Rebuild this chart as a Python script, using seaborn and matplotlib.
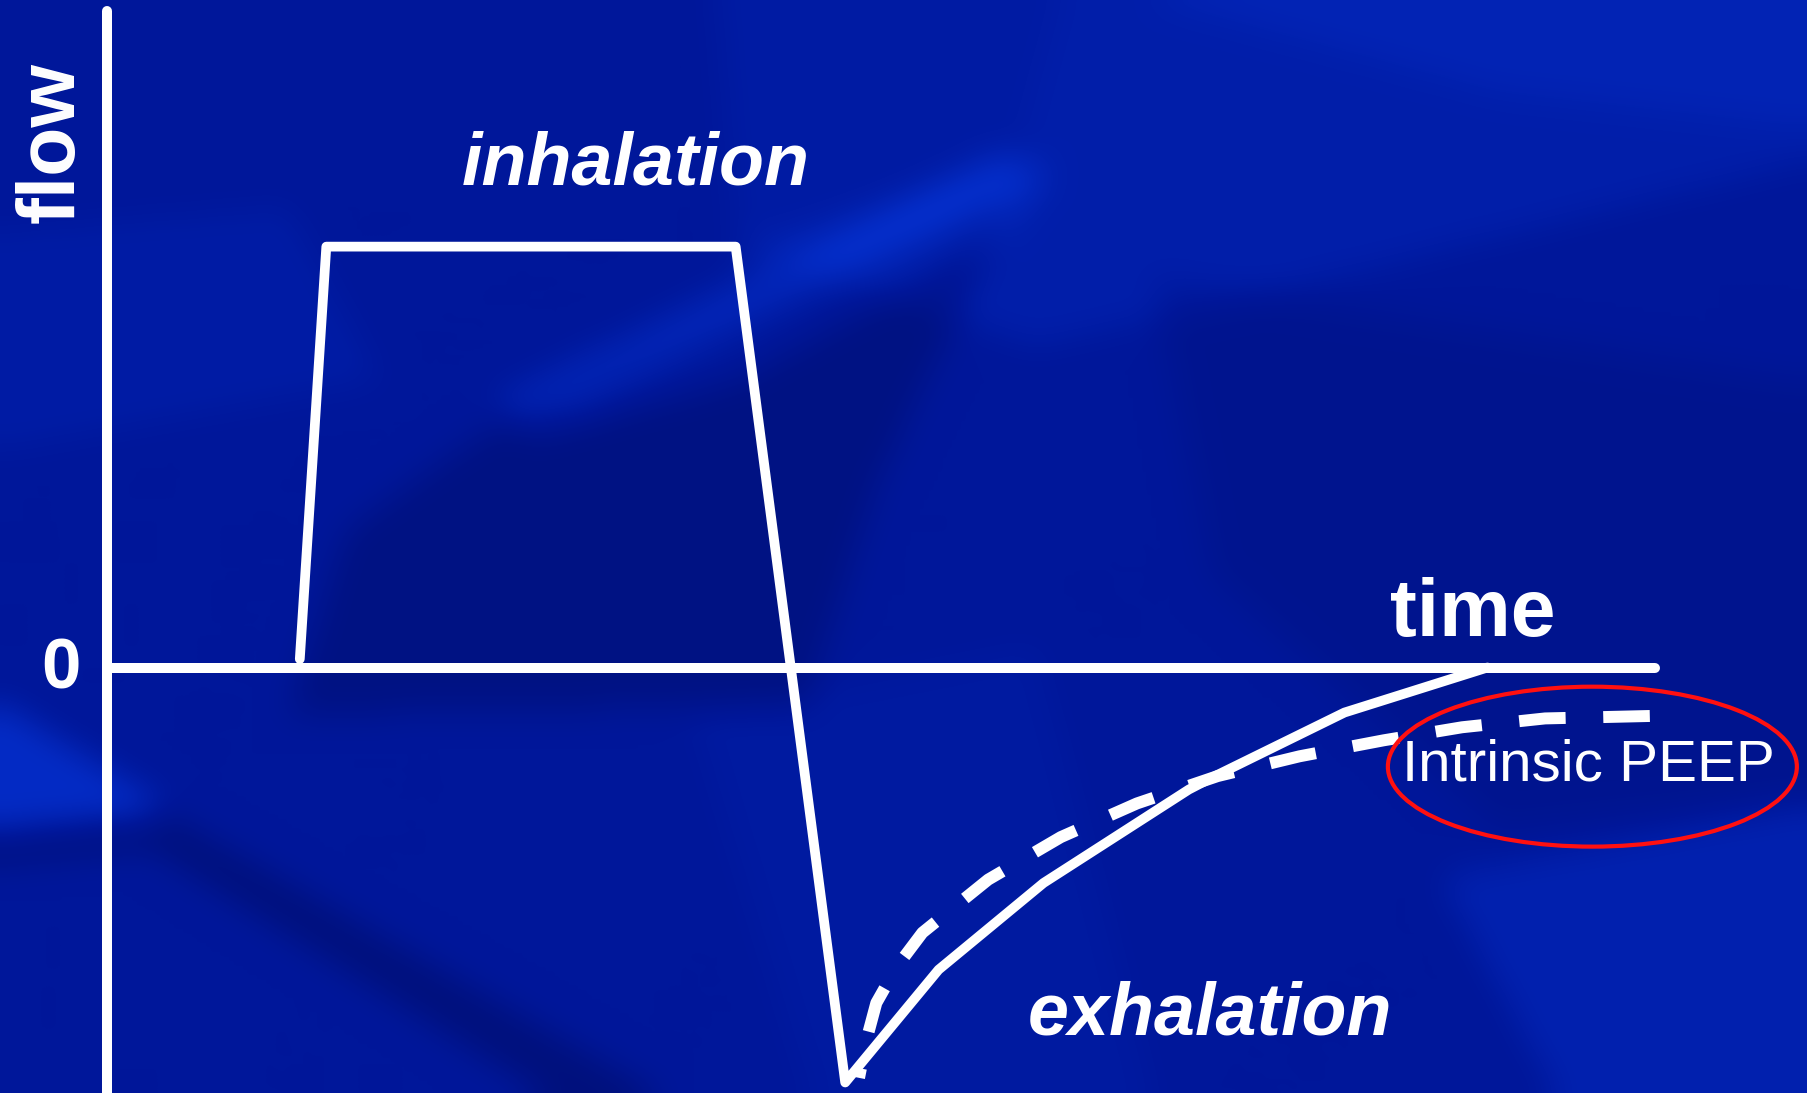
import numpy as np
import pandas as pd
import matplotlib
matplotlib.use("Agg")
import matplotlib.pyplot as plt
from matplotlib.path import Path
from matplotlib.patches import Ellipse
from matplotlib.colors import LinearSegmentedColormap
import seaborn as sns

# ---- waveform data (time in arbitrary units, flow normalised to peak inspiratory flow) ----
inhale_exhale_time = [1.67, 1.90, 5.45, 6.40, 7.21, 8.12, 9.38, 9.57, 10.73, 11.97]
inhale_exhale_flow = [0.02, 1.00, 1.00, -0.986, -0.718, -0.512, -0.290, -0.263, -0.107, 0.0]

# exhalation that does not return to zero before the next breath (auto-PEEP)
peep_time = [6.52, 6.59, 6.67, 6.85, 7.07, 7.64, 8.27, 8.93, 9.63, 10.34, 11.07, 11.75, 12.47, 13.41]
peep_flow = [-0.975, -0.879, -0.797, -0.710, -0.630, -0.504, -0.403, -0.323, -0.258, -0.211,
             -0.173, -0.142, -0.121, -0.115]

axis_time_end = 13.42
axis_flow_top = 1.56

labels = {"flow": "flow", "zero": "0", "time": "time", "inhale": "inhalation",
          "exhale": "exhalation", "peep": "Intrinsic PEEP"}

# ---- figure ----
sns.set_theme(style="white")
plt.rcParams["font.family"] = ["Liberation Sans", "DejaVu Sans"]

W, H, DPI = 1808, 1093, 100
fig = plt.figure(figsize=(W / DPI, H / DPI), dpi=DPI)
ax = fig.add_axes([0, 0, 1, 1])

x_lo, x_hi = -0.93, 14.75
y_lo, y_hi = -1.011, 1.586

# faceted blue backdrop, built on a grid in screen units (1568 x 948) and lightly smoothed
gw, gh = 392, 237
sx, sy = 1568 / gw, 948 / gh
gx, gy = np.meshgrid((np.arange(gw) + 0.5) * sx, (np.arange(gh) + 0.5) * sy)
pts = np.column_stack([gx.ravel(), gy.ravel()])
field = np.full(gx.shape, 0.50)
facets = [
    ([(0, 200), (250, 180), (330, 330), (0, 390)], 0.08),
    ([(640, 215), (880, 145), (920, 0), (1568, 0), (1568, 140), (1200, 230), (900, 300)], 0.12),
    ([(1568, 0), (1568, 110), (1300, 80), (1000, 0)], 0.08),
    ([(620, 0), (920, 0), (880, 145), (640, 240)], 0.07),
    ([(430, 345), (870, 130), (910, 150), (870, 205), (640, 330), (460, 380)], 0.20),
    ([(470, 350), (870, 140), (890, 160), (500, 365)], 0.08),
    ([(420, 375), (880, 170), (760, 420), (700, 610), (250, 620), (300, 460)], -0.19),
    ([(1000, 240), (1568, 330), (1568, 690), (1300, 720), (1050, 500)], -0.09),
    ([(0, 610), (130, 690), (145, 712), (0, 728)], 0.32),
    ([(0, 716), (140, 704), (570, 948), (470, 948), (130, 735), (0, 748)], -0.24),
    ([(1250, 760), (1568, 700), (1568, 948), (1350, 948)], 0.16),
    ([(600, 620), (900, 560), (1000, 948), (700, 948)], 0.05),
]
for poly, dv in facets:
    inside = Path(poly).contains_points(pts).reshape(gx.shape)
    field[inside] += dv


def box_blur(a, k):
    pad = np.pad(a, k, mode="edge")
    c = np.cumsum(np.cumsum(pad, axis=0), axis=1)
    c = np.pad(c, ((1, 0), (1, 0)))
    n = 2 * k + 1
    return (c[n:, n:] - c[:-n, n:] - c[n:, :-n] + c[:-n, :-n]) / n ** 2


field = box_blur(box_blur(field, 4), 3)
cmap = LinearSegmentedColormap.from_list("slide", ["#000a5e", "#00179a", "#0636dc"])
ax.imshow(field, cmap=cmap, vmin=0.0, vmax=1.0, extent=[x_lo, x_hi, y_lo, y_hi],
          origin="upper", aspect="auto", interpolation="bicubic", zorder=0)

# axes drawn as thick white strokes
ax.plot([0, 0], [axis_flow_top, y_lo - 0.05], color="white", lw=7.2,
        solid_capstyle="round", zorder=2)
ax.plot([0, axis_time_end], [0, 0], color="white", lw=7.2,
        solid_capstyle="round", zorder=2)

# flow curves
breath = pd.DataFrame({"time": inhale_exhale_time, "flow": inhale_exhale_flow})
trapped = pd.DataFrame({"time": peep_time, "flow": peep_flow})
sns.lineplot(data=breath, x="time", y="flow", ax=ax, color="white", lw=7,
             sort=False, estimator=None, zorder=3)
breath_line = ax.lines[-1]
breath_line.set_solid_capstyle("round")
breath_line.set_solid_joinstyle("round")

sns.lineplot(data=trapped, x="time", y="flow", ax=ax, color="white", lw=8.6,
             sort=False, estimator=None, zorder=3)
peep_line = ax.lines[-1]
peep_line.set_linestyle((3.1, (3.9, 3.15)))
peep_line.set_dash_capstyle("butt")

# annotation ring around the residual flow
ax.add_patch(Ellipse((12.88, -0.2356), 3.547, 0.380, fill=False,
                     edgecolor="#ff1010", lw=3.0, zorder=4))

# labels
ax.text(-0.47, 1.247, labels["flow"], rotation=90, ha="center", va="center",
        fontsize=58, fontweight="bold", color="white")
ax.text(-0.405, -0.049, labels["zero"], ha="center", va="baseline",
        fontsize=51, fontweight="bold", color="white")
ax.text(11.84, 0.075, labels["time"], ha="center", va="baseline",
        fontsize=58, fontweight="bold", color="white")
ax.text(4.58, 1.148, labels["inhale"], ha="center", va="baseline",
        fontsize=53, fontweight="bold", fontstyle="italic", color="white")
ax.text(9.56, -0.871, labels["exhale"], ha="center", va="baseline",
        fontsize=53, fontweight="bold", fontstyle="italic", color="white")
ax.text(12.85, -0.268, labels["peep"], ha="center", va="baseline",
        fontsize=42, color="white", zorder=5)

ax.set_xlim(x_lo, x_hi)
ax.set_ylim(y_lo, y_hi)
ax.set_axis_off()

fig.savefig("out.png", dpi=DPI)
